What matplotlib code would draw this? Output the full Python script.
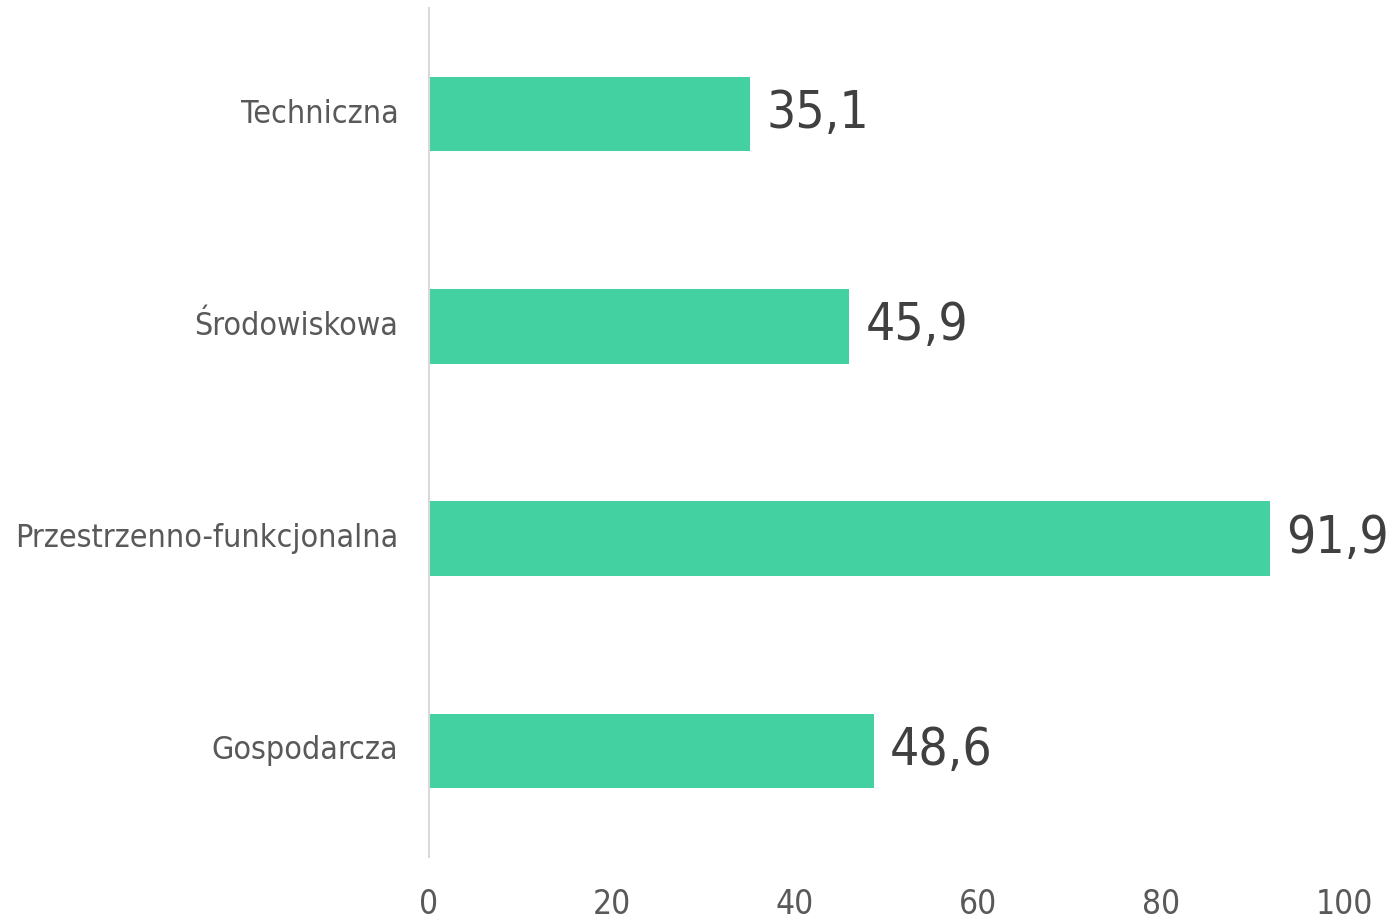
import matplotlib
matplotlib.use("Agg")
import matplotlib.pyplot as plt

categories = ["Gospodarcza", "Przestrzenno-funkcjonalna", "Środowiskowa", "Techniczna"]
values = [48.6, 91.9, 45.9, 35.1]
value_labels = ["48,6", "91,9", "45,9", "35,1"]
xticks = [0, 20, 40, 60, 80, 100]

plt.rcParams['font.family'] = ['DejaVu Sans']
plt.rcParams['font.stretch'] = 'condensed'

fig = plt.figure(figsize=(13.91, 9.19), dpi=100)
ax = fig.add_axes([429/1391, 62/919, (1344-429)/1391, (857-8)/919])

ypos = list(range(len(categories)))
ax.barh(ypos, values, height=0.35, color="#43D1A2")
for y, v, lab in zip(ypos, values, value_labels):
    ax.text(v + 1.8, y, lab, va="center", ha="left", fontsize=37, color="#404040",
            fontstretch='condensed')

ax.set_xlim(0, 100)
ax.set_ylim(-0.5, 3.5)
ax.set_yticks(ypos)
ax.set_yticklabels(categories, fontsize=23, color="#595959", va="center")
ax.set_xticks(xticks)
ax.set_xticklabels([str(t) for t in xticks], fontsize=24, color="#595959")
ax.tick_params(axis="both", length=0)
ax.tick_params(axis="y", pad=22)
ax.tick_params(axis="x", pad=22)
for s in ["top", "right", "bottom"]:
    ax.spines[s].set_visible(False)
ax.spines["left"].set_color("#D9D9D9")
ax.spines["left"].set_linewidth(1.5)

fig.savefig("out.png", dpi=100)
